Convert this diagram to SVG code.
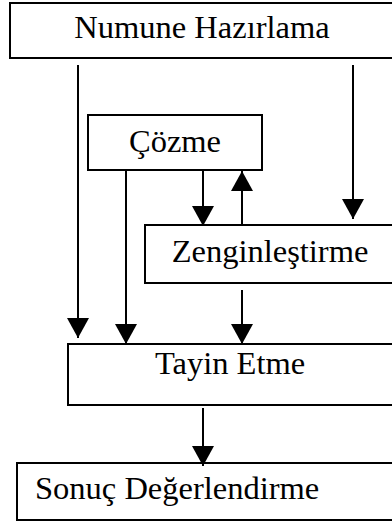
<svg xmlns="http://www.w3.org/2000/svg" width="392" height="523" viewBox="0 0 392 523">
<style>
.box{fill:#fff;stroke:#000;stroke-width:2}
.lbl{font-family:"Liberation Serif","Times New Roman",serif;font-size:32.5px;fill:#000}
.ln{stroke:#000;stroke-width:2;fill:none}
</style>
<defs>
<marker id="ah" viewBox="0 0 20 22" refX="20" refY="11" markerWidth="20" markerHeight="22" markerUnits="userSpaceOnUse" orient="auto">
<path d="M0,0 L20,11 L0,22 Z" fill="#000"/>
</marker>
</defs>
<rect width="392" height="523" fill="#fff"/>
<g id="n1"><rect class="box" x="10" y="3" width="400" height="55"/><text class="lbl" x="202" y="38" text-anchor="middle">Numune Hazırlama</text></g>
<g id="n2"><rect class="box" x="88" y="115" width="174" height="55"/><text class="lbl" x="175" y="152" text-anchor="middle">Çözme</text></g>
<g id="n3"><rect class="box" x="145" y="225" width="265" height="58"/><text class="lbl" x="270" y="262" text-anchor="middle">Zenginleştirme</text></g>
<g id="n4"><rect class="box" x="68" y="344" width="342" height="61"/><text class="lbl" x="230" y="374" text-anchor="middle">Tayin Etme</text></g>
<g id="n5"><rect class="box" x="17" y="463" width="393" height="57"/><text class="lbl" x="35" y="499">Sonuç Değerlendirme</text></g>
<g id="connectors">
<line class="ln" x1="78" y1="65" x2="78" y2="338" marker-end="url(#ah)"/>
<line class="ln" x1="353" y1="65" x2="353" y2="219" marker-end="url(#ah)"/>
<line class="ln" x1="126" y1="170" x2="126" y2="344" marker-end="url(#ah)"/>
<line class="ln" x1="203" y1="170" x2="203" y2="226" marker-end="url(#ah)"/>
<line class="ln" x1="242" y1="225" x2="242" y2="171" marker-end="url(#ah)"/>
<line class="ln" x1="242" y1="290" x2="242" y2="344" marker-end="url(#ah)"/>
<line class="ln" x1="203" y1="408" x2="203" y2="466" marker-end="url(#ah)"/>
</g>
</svg>
